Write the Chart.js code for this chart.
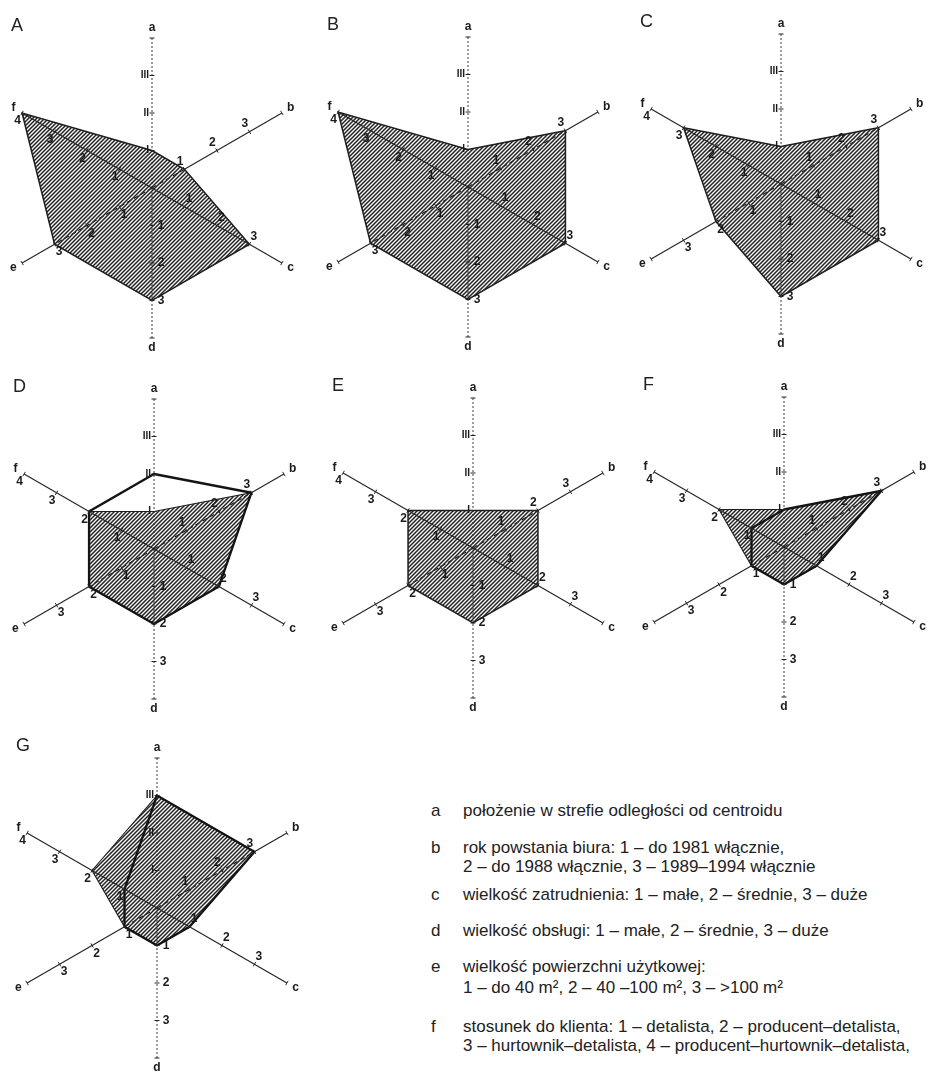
<!DOCTYPE html>
<html>
<head>
<meta charset="utf-8">
<script src="https://cdn.jsdelivr.net/npm/chart.js@4"></script>
<style>
html,body{margin:0;padding:0;background:#fff;width:946px;height:1079px;overflow:hidden;position:relative;font-family:"Liberation Sans",Arial,sans-serif;color:#222}
canvas.panel{position:absolute}
.lg{position:absolute;font-size:17px;line-height:17px;white-space:nowrap;color:#222}
</style>
</head>
<body>
<div id="legend"></div>
<script>
// ---- axis names and tick labels ----
const axisNames = ['a', 'b', 'c', 'd', 'e', 'f'];
const ticksA = ['I', 'II', 'III'];
const ticksB = ['1', '2', '3'];
const ticksC = ['1', '2', '3'];
const ticksD = ['1', '2', '3'];
const ticksE = ['1', '2', '3'];
const ticksF = ['1', '2', '3', '4'];
const panelLetters = ['A', 'B', 'C', 'D', 'E', 'F', 'G'];

// ---- values per panel, order: a, b, c, d, e, f ----
const fillA = [1, 1, 3, 3, 3, 4];
const fillB = [1, 3, 3, 3, 3, 4];
const fillC = [1, 3, 3, 3, 2, 3];
const fillD = [1, 3, 2, 2, 2, 2];
const outlineD = [2, 3, 2, 2, 2, 2];
const fillE = [1, 2, 2, 2, 2, 2];
const fillF = [1, 3, 1, 1, 1, 2];
const outlineF = [1, 3, 1, 1, 1, 1];
const fillG = [3, 3, 1, 1, 1, 2];
const outlineG = [3, 3, 1, 1, 1, 1];

// ---- legend text ----
const legendKeys = ['a', 'b', 'c', 'd', 'e', 'f'];
const legendLines = [
  ['położenie w strefie odległości od centroidu'],
  ['rok powstania biura: 1 – do 1981 włącznie,', '2 – do 1988 włącznie, 3 – 1989–1994 włącznie'],
  ['wielkość zatrudnienia: 1 – małe, 2 – średnie, 3 – duże'],
  ['wielkość obsługi: 1 – małe, 2 – średnie, 3 – duże'],
  ['wielkość powierzchni użytkowej:', '1 – do 40 m², 2 – 40 –100 m², 3 – >100 m²'],
  ['stosunek do klienta: 1 – detalista, 2 – producent–detalista,', '3 – hurtownik–detalista, 4 – producent–hurtownik–detalista,']
];

// ---- layout (not data) ----
const panelCenters = [[152,188],[468,187],[781,184],[154,549],[473,548],[784,547],[157,908]];
const legendBaselines = [[816],[853,872],[900],[936],[972,993],[1032,1051]];

const panelFills = [fillA, fillB, fillC, fillD, fillE, fillF, fillG];
const panelOutlines = [null, null, null, outlineD, null, outlineF, outlineG];
const tickSets = [ticksA, ticksB, ticksC, ticksD, ticksE, ticksF];

function makeHatch(ctx) {
  const n = 4;
  const t = document.createElement('canvas');
  t.width = n; t.height = n;
  const g = t.getContext('2d');
  g.fillStyle = '#f6f6f6';
  g.fillRect(0, 0, n, n);
  g.strokeStyle = '#222222';
  g.lineWidth = 1.45;
  g.beginPath();
  g.moveTo(-1, n + 1); g.lineTo(n + 1, -1);
  g.moveTo(-1, 1); g.lineTo(1, -1);
  g.moveTo(n - 1, n + 1); g.lineTo(n + 1, n - 1);
  g.stroke();
  return ctx.createPattern(t, 'repeat');
}

const axesPlugin = {
  id: 'axesPlugin',
  afterDatasetsDraw(chart) {
    const s = chart.scales.r;
    const ctx = chart.ctx;
    const c = s.getPointPositionForValue(0, 0);
    const maxV = s.max;
    const fillDs = chart.data.datasets.find(d => d.label === 'zakres');
    const vals = fillDs.data;
    ctx.save();
    for (let i = 0; i < 6; i++) {
      const end = s.getPointPositionForValue(i, maxV);
      const ux = (end.x - c.x) / s.drawingArea, uy = (end.y - c.y) / s.drawingArea;
      const nx = uy, ny = -ux;
      ctx.strokeStyle = '#262626';
      if (i === 0 || i === 3) {
        ctx.lineWidth = 0.9;
        ctx.setLineDash([2, 2]);
        ctx.beginPath(); ctx.moveTo(c.x, c.y); ctx.lineTo(end.x, end.y); ctx.stroke();
      } else if (i === 1 || i === 4) {
        const mid = s.getPointPositionForValue(i, vals[i]);
        ctx.lineWidth = 1.1;
        ctx.setLineDash([5, 3]);
        ctx.beginPath(); ctx.moveTo(c.x, c.y); ctx.lineTo(mid.x, mid.y); ctx.stroke();
        ctx.setLineDash([]);
        ctx.lineWidth = 1.2;
        ctx.beginPath(); ctx.moveTo(mid.x, mid.y); ctx.lineTo(end.x, end.y); ctx.stroke();
      } else {
        ctx.setLineDash([]);
        ctx.lineWidth = 1.2;
        ctx.beginPath(); ctx.moveTo(c.x, c.y); ctx.lineTo(end.x, end.y); ctx.stroke();
      }
      ctx.setLineDash([]);
      ctx.lineWidth = 1;
      for (let v = 1; v <= maxV; v++) {
        const p = s.getPointPositionForValue(i, v);
        ctx.beginPath();
        ctx.moveTo(p.x - nx * 2.5, p.y - ny * 2.5);
        ctx.lineTo(p.x + nx * 2.5, p.y + ny * 2.5);
        ctx.stroke();
      }
      // tick labels
      ctx.fillStyle = '#1a1a1a';
      const labels = tickSets[i];
      labels.forEach((t, k) => {
        const p = s.getPointPositionForValue(i, k + 1);
        if (i === 0) {
          ctx.font = 'bold 10px "Liberation Sans", Arial, sans-serif';
          ctx.textAlign = 'right';
          ctx.textBaseline = 'middle';
          ctx.fillText(t, p.x - 3, p.y);
        } else {
          ctx.font = 'bold 12px "Liberation Sans", Arial, sans-serif';
          ctx.textAlign = 'center';
          ctx.textBaseline = 'middle';
          ctx.fillText(t, p.x + nx * 9, p.y + ny * 9);
        }
      });
      // axis name
      const lp = s.getPointPosition(i, s.drawingArea + 10);
      ctx.font = 'bold 12px "Liberation Sans", Arial, sans-serif';
      ctx.textAlign = 'center';
      ctx.textBaseline = 'middle';
      ctx.fillText(axisNames[i], lp.x, lp.y);
    }
    // panel letter
    ctx.font = '18px "Liberation Sans", Arial, sans-serif';
    ctx.textAlign = 'left';
    ctx.textBaseline = 'alphabetic';
    ctx.fillStyle = '#222';
    ctx.fillText(chart.options.plugins.panelLetter, c.x - 141, c.y - 157);
    ctx.restore();
  }
};

panelLetters.forEach((letter, idx) => {
  const cv = document.createElement('canvas');
  cv.className = 'panel';
  cv.width = 310; cv.height = 365;
  cv.style.width = '310px'; cv.style.height = '365px';
  cv.style.left = (panelCenters[idx][0] - 152) + 'px';
  cv.style.top = (panelCenters[idx][1] - 185) + 'px';
  document.body.appendChild(cv);
  const ctx = cv.getContext('2d');
  const hasOutline = !!panelOutlines[idx];
  const datasets = [{
    label: 'zakres',
    data: panelFills[idx],
    backgroundColor: makeHatch(ctx),
    borderColor: '#1e1e1e',
    borderWidth: hasOutline ? 1.1 : 1.5,
    fill: true,
    pointRadius: 0,
    order: 1
  }];
  if (hasOutline) {
    datasets.push({
      label: 'kontur',
      data: panelOutlines[idx],
      borderColor: '#141414',
      borderWidth: 2.3,
      backgroundColor: 'rgba(0,0,0,0)',
      fill: false,
      pointRadius: 0,
      order: 0
    });
  }
  new Chart(ctx, {
    type: 'radar',
    data: { labels: axisNames, datasets },
    options: {
      responsive: false,
      animation: false,
      devicePixelRatio: 1,
      layout: { padding: { left: 2, right: 8, top: 35, bottom: 30 } },
      plugins: { legend: { display: false }, tooltip: { enabled: false }, panelLetter: letter },
      scales: {
        r: {
          min: 0, max: 4,
          ticks: { display: false, stepSize: 1 },
          grid: { display: false },
          angleLines: { display: false },
          pointLabels: { display: false }
        }
      },
      elements: { line: { tension: 0 }, point: { radius: 0 } }
    },
    plugins: [axesPlugin]
  });
});

// legend
const lg = document.getElementById('legend');
legendKeys.forEach((k, i) => {
  const b0 = legendBaselines[i][0];
  const key = document.createElement('div');
  key.className = 'lg';
  key.style.left = '431px';
  key.style.top = (b0 - 14) + 'px';
  key.textContent = k;
  lg.appendChild(key);
  legendLines[i].forEach((line, j) => {
    const d = document.createElement('div');
    d.className = 'lg';
    d.style.left = '463px';
    d.style.top = (legendBaselines[i][j] - 14) + 'px';
    d.textContent = line;
    lg.appendChild(d);
  });
});
</script>
</body>
</html>
